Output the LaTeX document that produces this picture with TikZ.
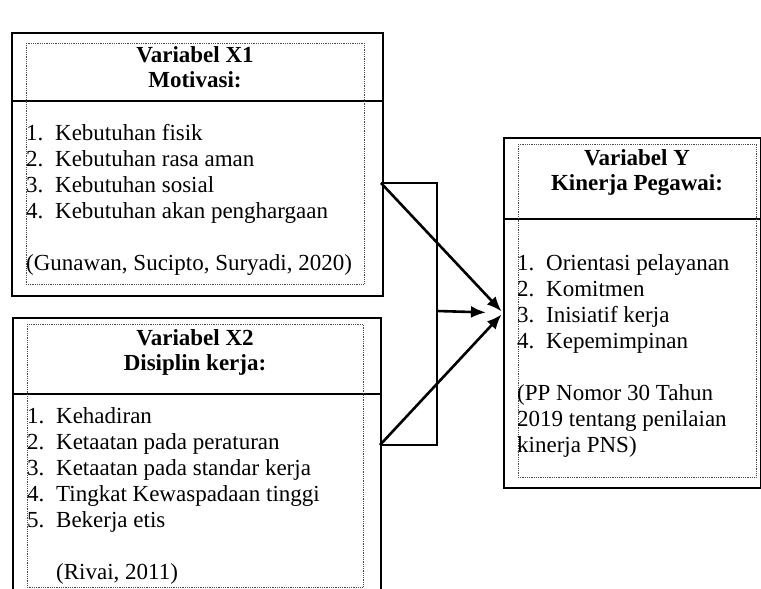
\documentclass[tikz,border=0pt]{standalone}
\usepackage{fontspec}
\setmainfont{Liberation Serif}
\usetikzlibrary{arrows.meta}
\tikzset{
  outerbox/.style={draw, line width=1.8pt, inner sep=0pt, anchor=north west},
  innerbox/.style={draw, densely dotted, line width=0.8pt, black!70},
  head/.style={font=\bfseries\fontsize{23}{26}\selectfont, anchor=base, inner sep=0pt},
  item/.style={font=\fontsize{23}{26}\selectfont, anchor=base west, inner sep=0pt},
  link/.style={line width=2.6pt},
}
\begin{document}
\begin{tikzpicture}[>={Latex[length=15pt,width=12pt]},x=1pt,y=-1pt]
		\useasboundingbox (0,0) rectangle (761,589);
		\clip (0,0) rectangle (761,589);
		% boxes
		\node[outerbox, minimum width=371pt, minimum height=263pt] (x1) at (11,32) {};
		\node[outerbox, minimum width=368pt, minimum height=290pt] (x2) at (12,317) {};
		\node[outerbox, minimum width=257pt, minimum height=350pt] (y) at (503,137) {};
		\coordinate (d1) at (0,101);
		\coordinate (d2) at (0,394);
		\coordinate (d3) at (0,219);
		\draw[line width=1.8pt] (x1.west |- d1) -- (x1.east |- d1);
		\draw[line width=1.8pt] (x2.west |- d2) -- (x2.east |- d2);
		\draw[line width=1.8pt] (y.west |- d3) -- (y.east |- d3);
		\draw[innerbox] (26,43) rectangle (364,284);
		\draw[innerbox] (27,324) rectangle (363,587);
		\draw[innerbox] (518,144) rectangle (756,477);
		% X1
		\node[head] (x1h1) at (195,62) {Variabel X1};
		\node[head] (x1h2) at (195,87) {Motivasi:};
		\foreach \t [count=\i] in {Kebutuhan fisik,Kebutuhan rasa aman,Kebutuhan sosial,Kebutuhan akan penghargaan}
			\node[item] (x1i\i) at (26,{114+26*\i}) {\makebox[29pt][l]{\i.}\t};
		\node[item] (x1src) at (26,270) {(Gunawan, Sucipto, Suryadi, 2020)};
		% X2
		\node[head] (x2h1) at (195,345) {Variabel X2};
		\node[head] (x2h2) at (195,370) {Disiplin kerja:};
		\foreach \t [count=\i] in {Kehadiran,Ketaatan pada peraturan,Ketaatan pada standar kerja,Tingkat Kewaspadaan tinggi,Bekerja etis}
			\node[item] (x2i\i) at (27,{397+26*\i}) {\makebox[29pt][l]{\i.}\t};
		\node[item] (x2src) at (56,579) {(Rivai, 2011)};
		% Y
		\node[head] (yh1) at (637,165) {Variabel Y};
		\node[head] (yh2) at (637,190) {Kinerja Pegawai:};
		\foreach \t [count=\i] in {Orientasi pelayanan,Komitmen,Inisiatif kerja,Kepemimpinan}
			\node[item] (yi\i) at (517,{244+26*\i}) {\makebox[29pt][l]{\i.}\t};
		\node[item] (ysrc1) at (517,400) {(PP Nomor 30 Tahun};
		\node[item] (ysrc2) at (517,426) {2019 tentang penilaian};
		\node[item] (ysrc3) at (517,452) {kinerja PNS)};
		% connectors
		\coordinate (a1) at (381,183);
		\coordinate (a2) at (380,445);
		\coordinate (jn) at (437,311);
		\draw[link] (a1) -- (a1 -| jn) -- (a2 -| jn) -- (a2);
		\draw[link,->,shorten >=2pt] (a1) -- (y.west);
		\draw[link,->,shorten >=2pt] (a2) -- (y.west);
		\draw[link,->,shorten >=17pt] (jn) -- (y.west);
\end{tikzpicture}
\end{document}
